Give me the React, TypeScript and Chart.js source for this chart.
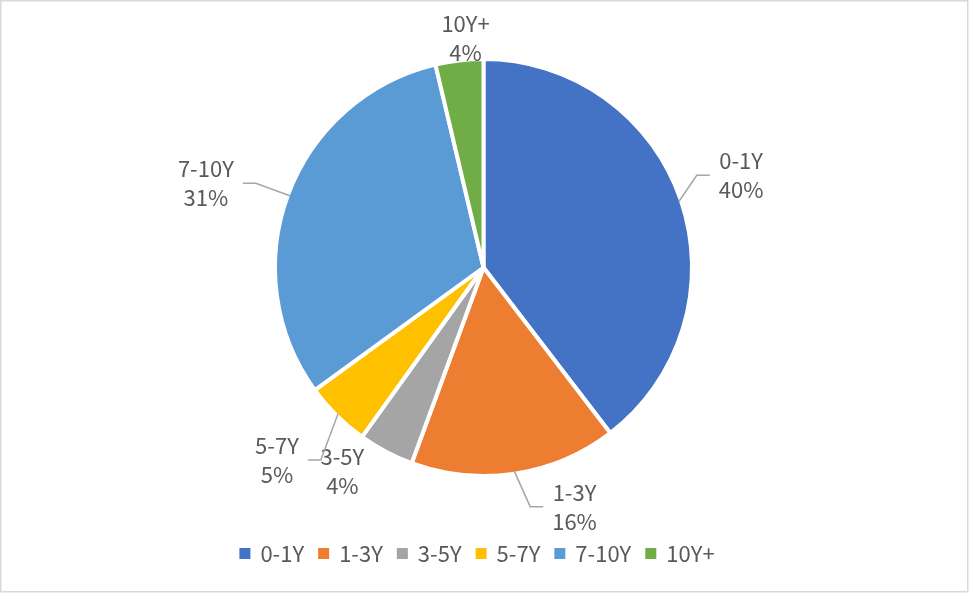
import React, { useEffect, useRef } from "react";
import { Chart, registerables } from "chart.js";

Chart.register(...registerables);

// ---- data ----
const categories: string[] = ["0-1Y", "1-3Y", "3-5Y", "5-7Y", "7-10Y", "10Y+"];
const shares: number[] = [39.6, 16.0, 4.3, 5.1, 31.3, 3.7];
const sliceColors: string[] = ["#4472C4", "#ED7D31", "#A5A5A5", "#FFC000", "#5B9BD5", "#70AD47"];

// label placement nudges relative to each slice's outer mid point
const labelNudges: [number, number][] = [
  [62, -26],
  [60, 35],
  [-44.5, 21],
  [-61, 46],
  [-84, -12.5],
  [6, -24.5],
];

const W = 969;
const H = 594;
const FONT_FAMILY = '"Noto Sans CJK SC", "Noto Sans", sans-serif';
const FONT_SIZE = 22;
const TEXT_COLOR = "#595959";
const LINE_GAP = 29;
const BORDER = 4;

const frame = {
  id: "frame",
  beforeDraw(chart: any) {
    const ctx = chart.ctx as CanvasRenderingContext2D;
    ctx.save();
    ctx.fillStyle = "#ffffff";
    ctx.fillRect(0, 0, chart.width, chart.height);
    ctx.strokeStyle = "#d9d9d9";
    ctx.lineWidth = 1.5;
    ctx.strokeRect(0.75, 0.75, 967, 591);
    ctx.restore();
  },
};

const sliceLabels = {
  id: "sliceLabels",
  afterDatasetsDraw(chart: any) {
    const ctx = chart.ctx as CanvasRenderingContext2D;
    const meta = chart.getDatasetMeta(0);
    const values: number[] = chart.data.datasets[0].data as number[];
    const total = values.reduce((a, b) => a + b, 0);
    ctx.save();
    ctx.font = `400 ${FONT_SIZE}px ${FONT_FAMILY}`;
    ctx.textAlign = "center";
    ctx.textBaseline = "middle";
    meta.data.forEach((arc: any, i: number) => {
      const p = arc.getProps(["x", "y", "startAngle", "endAngle", "outerRadius"], true);
      const mid = (p.startAngle + p.endAngle) / 2;
      const r = p.outerRadius - BORDER / 2;
      const ax = p.x + Math.cos(mid) * r;
      const ay = p.y + Math.sin(mid) * r;
      const [nx, ny] = labelNudges[i];
      const cx = ax + nx;
      const cy = ay + ny;
      const name = chart.data.labels[i] as string;
      const pct = Math.round((values[i] / total) * 100) + "%";
      const w = Math.max(ctx.measureText(name).width, ctx.measureText(pct).width);
      const left = cx - w / 2;
      const right = cx + w / 2;
      const top = cy - LINE_GAP;
      const bottom = cy + LINE_GAP;
      const dx = ax < left ? left - ax : ax > right ? ax - right : 0;
      const dy = ay < top ? top - ay : ay > bottom ? ay - bottom : 0;
      if (Math.hypot(dx, dy) > 25) {
        const toRight = ax > cx;
        const endX = toRight ? right + 9 : left - 9;
        const elbowX = toRight ? endX + 13 : endX - 13;
        ctx.beginPath();
        ctx.moveTo(ax, ay);
        ctx.lineTo(elbowX, cy);
        ctx.lineTo(endX, cy);
        ctx.strokeStyle = "#a6a6a6";
        ctx.lineWidth = 1.5;
        ctx.stroke();
      }
      ctx.fillStyle = TEXT_COLOR;
      ctx.fillText(name, cx, cy - LINE_GAP / 2);
      ctx.fillText(pct, cx, cy + LINE_GAP / 2);
    });
    ctx.restore();
  },
};

const bottomLegend = {
  id: "bottomLegend",
  afterDraw(chart: any) {
    const ctx = chart.ctx as CanvasRenderingContext2D;
    const labels = chart.data.labels as string[];
    const colors = chart.data.datasets[0].backgroundColor as string[];
    ctx.save();
    ctx.font = `400 ${FONT_SIZE}px ${FONT_FAMILY}`;
    ctx.textBaseline = "middle";
    ctx.textAlign = "left";
    const box = 11;
    const boxGap = 10;
    const itemGap = 14;
    const widths = labels.map((l) => ctx.measureText(l).width);
    const total = widths.reduce((a, b) => a + b + box + boxGap, 0) + itemGap * (labels.length - 1);
    let x = 477 - total / 2;
    const y = 553.5;
    labels.forEach((l, i) => {
      ctx.fillStyle = colors[i];
      ctx.fillRect(x, y - box / 2, box, box);
      x += box + boxGap;
      ctx.fillStyle = TEXT_COLOR;
      ctx.fillText(l, x, y);
      x += widths[i] + itemGap;
    });
    ctx.restore();
  },
};

export default function App() {
  const ref = useRef<HTMLCanvasElement | null>(null);
  useEffect(() => {
    document.body.style.margin = "0";
    if (!ref.current) return;
    const chart = new Chart(ref.current, {
      type: "pie",
      data: {
        labels: categories,
        datasets: [
          {
            data: shares,
            backgroundColor: sliceColors,
            borderColor: "#ffffff",
            borderWidth: BORDER,
          },
        ],
      },
      options: {
        responsive: false,
        animation: false,
        layout: { padding: { top: 57, bottom: 116, left: 0, right: 2 } },
        plugins: {
          legend: { display: false },
          tooltip: { enabled: false },
        },
      },
      plugins: [frame, sliceLabels, bottomLegend],
    });
    return () => chart.destroy();
  }, []);
  return (
    <canvas
      ref={ref}
      width={W}
      height={H}
      style={{ position: "fixed", left: 0, top: 0, width: W, height: H, display: "block" }}
    />
  );
}
